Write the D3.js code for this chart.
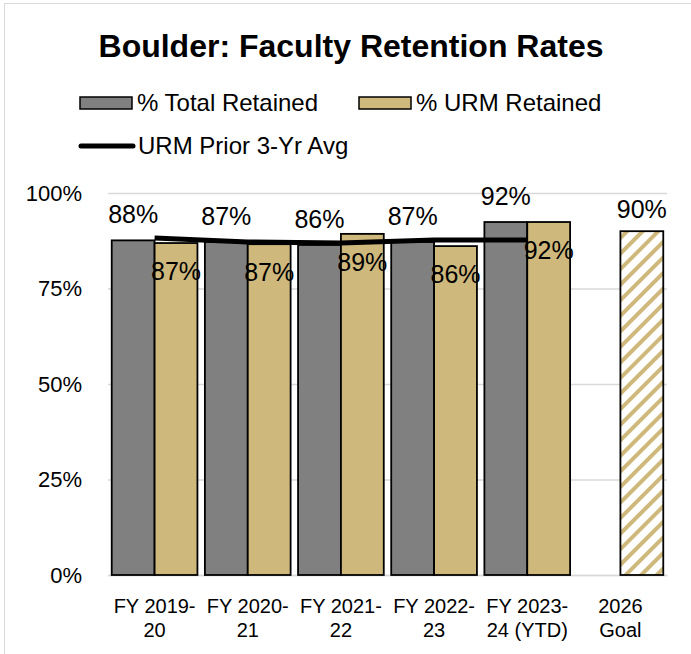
<!DOCTYPE html>
<html>
<head>
<meta charset="utf-8">
<script src="https://cdn.jsdelivr.net/npm/d3@7"></script>
<style>
  body { margin: 0; background: #fff; }
  text { font-family: "Liberation Sans", Arial, sans-serif; }
</style>
</head>
<body>
<svg id="chart" width="691" height="654"></svg>
<script>
// data
const categories = ["FY 2019-20", "FY 2020-21", "FY 2021-22", "FY 2022-23", "FY 2023-24 (YTD)", "2026 Goal"];
const tickLines = [["FY 2019-", "20"], ["FY 2020-", "21"], ["FY 2021-", "22"], ["FY 2022-", "23"], ["FY 2023-", "24 (YTD)"], ["2026", "Goal"]];
const totalRetained = [87.6, 87.2, 86.4, 87.2, 92.4];
const urmRetained = [86.9, 86.6, 89.3, 86.1, 92.4];
const urmPriorAvg = [88.2, 87.2, 86.9, 87.7, 87.7];
const goalValue = 90;
const yTicks = [0, 25, 50, 75, 100];

const GRAY = "#808080", GOLD = "#cfb87c";

const svg = d3.select("#chart");

// outer chart border
svg.append("rect")
  .attr("x", 4.5).attr("y", 3.5)
  .attr("width", 720).attr("height", 720)
  .attr("fill", "none").attr("stroke", "#d9d9d9");

// hatch for the goal bar
const defs = svg.append("defs");
const pat = defs.append("pattern")
  .attr("id", "hatch")
  .attr("patternUnits", "userSpaceOnUse")
  .attr("width", 11).attr("height", 11)
  .attr("patternTransform", "rotate(45)");
pat.append("rect").attr("width", 11).attr("height", 11).attr("fill", "#fff");
pat.append("rect").attr("x", 0).attr("width", 4).attr("height", 11).attr("fill", GOLD);

svg.append("text")
  .attr("x", 351).attr("y", 57)
  .attr("text-anchor", "middle")
  .attr("font-size", 32).attr("font-weight", "bold")
  .text("Boulder: Faculty Retention Rates");

// legend
const leg = svg.append("g");
[{label: "% Total Retained", fill: GRAY, x: 80}, {label: "% URM Retained", fill: GOLD, x: 359}].forEach(function(d) {
  leg.append("rect")
    .attr("x", d.x).attr("y", 97).attr("width", 52).attr("height", 12)
    .attr("fill", d.fill).attr("stroke", "#000").attr("stroke-width", 1.5);
  leg.append("text")
    .attr("x", d.x + 57).attr("y", 111)
    .attr("font-size", 24)
    .text(d.label);
});
leg.append("line")
  .attr("x1", 81).attr("x2", 133).attr("y1", 146).attr("y2", 146)
  .attr("stroke", "#000").attr("stroke-width", 5).attr("stroke-linecap", "round");
leg.append("text")
  .attr("x", 138).attr("y", 154)
  .attr("font-size", 24)
  .text("URM Prior 3-Yr Avg");

// scales
const x = d3.scaleBand()
  .domain(categories)
  .range([108, 667])
  .paddingInner(0.08)
  .paddingOuter(0.04);

const x1 = d3.scaleBand()
  .domain(["total", "urm"])
  .range([0, x.bandwidth()]);

const y = d3.scaleLinear()
  .domain([0, 100])
  .range([575, 193]);

// gridlines + y labels
const yAxis = svg.append("g")
  .attr("transform", "translate(108,0)")
  .call(d3.axisLeft(y).tickValues(yTicks).tickSize(-559).tickFormat(function(d) { return d + "%"; }));
yAxis.select(".domain").remove();
yAxis.selectAll(".tick line").attr("stroke", "#d9d9d9").attr("stroke-width", 1.5);
yAxis.selectAll(".tick text")
  .attr("x", -26)
  .attr("font-size", 22)
  .attr("fill", "#000")
  .style("font-family", "Liberation Sans, Arial, sans-serif");

// x labels
const xAxis = svg.append("g")
  .attr("transform", "translate(0,575)")
  .call(d3.axisBottom(x).tickSize(0).tickFormat(""));
xAxis.select(".domain").attr("stroke", "#d9d9d9").attr("stroke-width", 1.5);
xAxis.selectAll(".tick").each(function(d, i) {
  const t = d3.select(this).append("text")
    .attr("fill", "#000")
    .attr("font-size", 20)
    .attr("text-anchor", "middle")
    .style("font-family", "Liberation Sans, Arial, sans-serif");
  tickLines[i].forEach(function(s, k) {
    t.append("tspan").attr("x", 0).attr("y", 38 + k * 24).text(s);
  });
});

// bars
const groups = categories.slice(0, totalRetained.length);
const fmt = function(v) { return Math.round(v) + "%"; };

svg.append("g").selectAll("rect")
  .data(groups)
  .join("rect")
  .attr("x", function(d) { return x(d) + x1("total"); })
  .attr("y", function(d, i) { return y(totalRetained[i]); })
  .attr("width", x1.bandwidth())
  .attr("height", function(d, i) { return y(0) - y(totalRetained[i]); })
  .attr("fill", GRAY).attr("stroke", "#000").attr("stroke-width", 1.8);

svg.append("g").selectAll("rect")
  .data(groups)
  .join("rect")
  .attr("x", function(d) { return x(d) + x1("urm"); })
  .attr("y", function(d, i) { return y(urmRetained[i]); })
  .attr("width", x1.bandwidth())
  .attr("height", function(d, i) { return y(0) - y(urmRetained[i]); })
  .attr("fill", GOLD).attr("stroke", "#000").attr("stroke-width", 1.8);

// goal bar
svg.append("rect")
  .attr("x", x("2026 Goal") + x1("urm"))
  .attr("y", y(goalValue))
  .attr("width", x1.bandwidth())
  .attr("height", y(0) - y(goalValue))
  .attr("fill", "url(#hatch)").attr("stroke", "#000").attr("stroke-width", 1.8);

// prior avg line
const line = d3.line()
  .x(function(d, i) { return x(groups[i]) + x.bandwidth() / 2; })
  .y(function(d) { return y(d); });
svg.append("path")
  .datum(urmPriorAvg)
  .attr("d", line)
  .attr("fill", "none").attr("stroke", "#000").attr("stroke-width", 5);

// data labels
const labels = svg.append("g").attr("font-size", 25).attr("text-anchor", "middle");
groups.forEach(function(g, i) {
  labels.append("text")
    .attr("x", x(g) + x1("total") + x1.bandwidth() / 2)
    .attr("y", y(totalRetained[i]) - 17)
    .text(fmt(totalRetained[i]));
  labels.append("text")
    .attr("x", x(g) + x1("urm") + x1.bandwidth() / 2)
    .attr("y", y(urmRetained[i]) + 37)
    .text(fmt(urmRetained[i]));
});
labels.append("text")
  .attr("x", x("2026 Goal") + x1("urm") + x1.bandwidth() / 2)
  .attr("y", y(goalValue) - 13)
  .text(fmt(goalValue));
</script>
</body>
</html>
